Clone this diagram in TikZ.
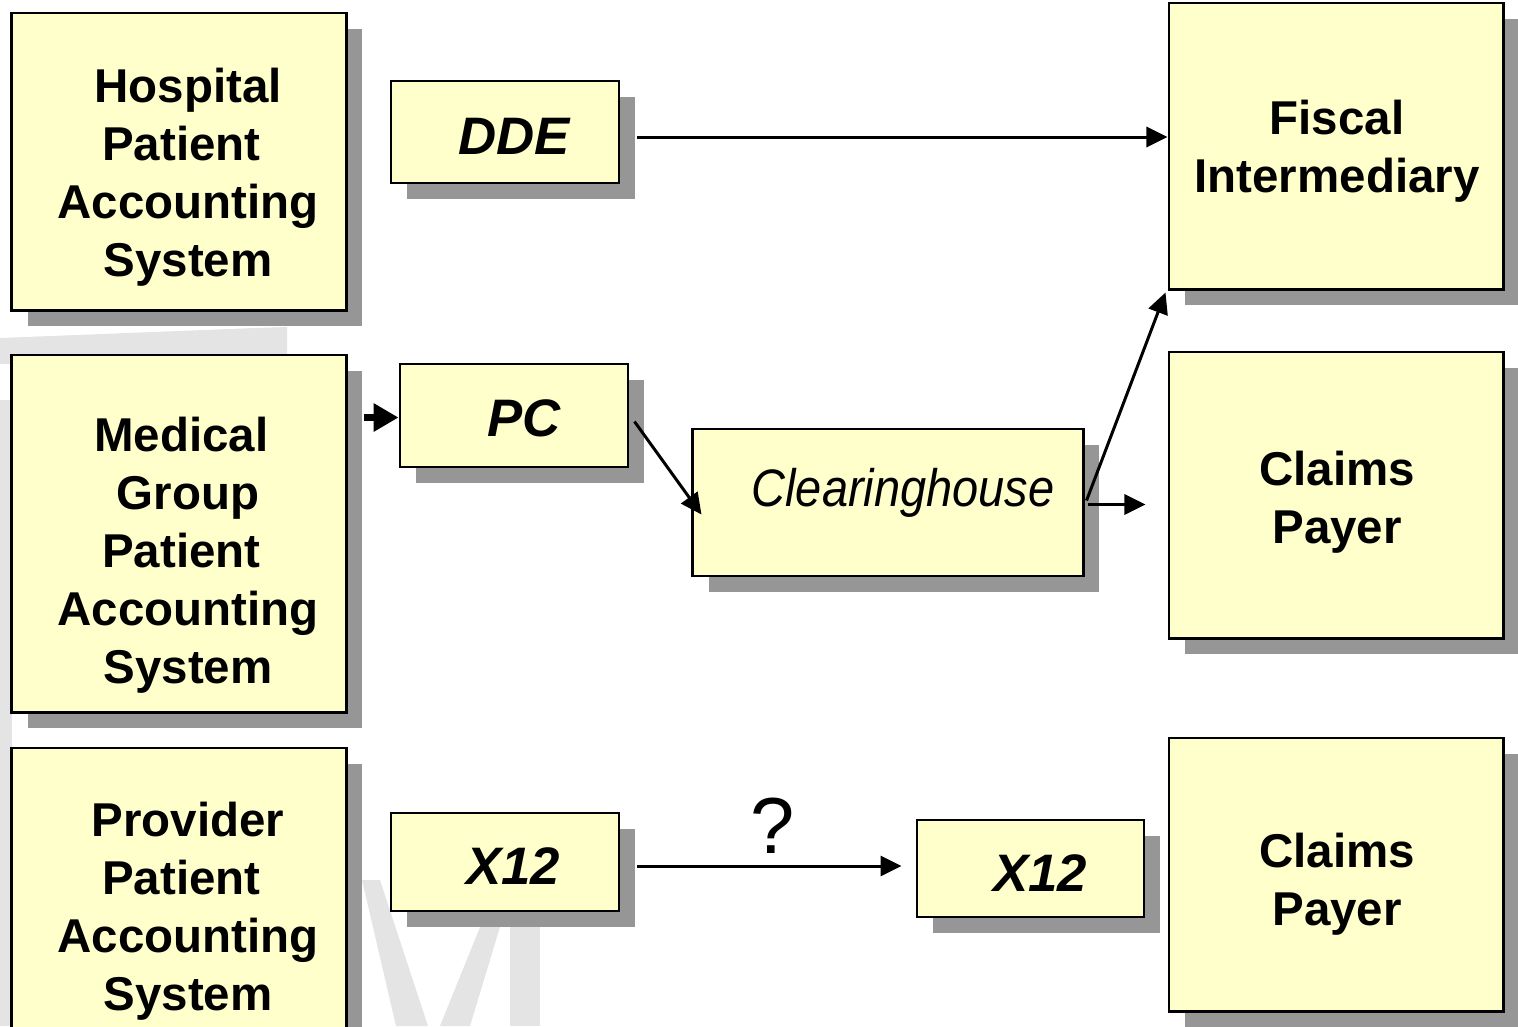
\documentclass[tikz,border=0pt]{standalone}
\usepackage{fontspec}
\setmainfont{Liberation Sans}
\usepackage{graphicx}
\usetikzlibrary{arrows.meta,shadows,calc}

\definecolor{boxyellow}{RGB}{255,255,204}
\definecolor{shadowgray}{RGB}{150,150,150}
\definecolor{markgray}{RGB}{228,228,228}

% trailing space kept at the end of a line
\newcommand{\tailsp}{\hbox to 0.278em{}}

\tikzset{
  box/.style={draw=black, line width=0.8pt, fill=boxyellow, inner sep=0pt,
    drop shadow={shadow xshift=0.16cm, shadow yshift=-0.16cm, fill=shadowgray, opacity=1}},
  systxt/.style={inner sep=0pt, align=center, font=\fontsize{13.5}{16.5}\selectfont\bfseries},
  fmttxt/.style={inner sep=0pt, font=\fontsize{15}{18}\selectfont\bfseries\itshape},
  flow/.style={line width=0.85pt, -{Triangle[length=0.21cm,width=0.2cm]}},
  thickflow/.style={line width=2pt, -{Triangle[length=0.25cm,width=0.27cm]}},
}

\begin{document}
\begin{tikzpicture}[x=0.01cm,y=-0.01cm]
% Picture size in pixels of the slide
\useasboundingbox (0,0) rectangle (1518,1026);
\clip (0,0) rectangle (1518,1026);

% Faint watermark behind the boxes
\fill[markgray] (0,338) -- (255,328) -- (287,327) -- (287,356) -- (0,364) -- cycle;
\fill[markgray] (0,400) rectangle (12,1026);
\fill[markgray] (362,880) -- (380,880) -- (428,1026) -- (396,1026) -- cycle;
\fill[markgray] (480,927) -- (500,927) -- (470,1026) -- (440,1026) -- cycle;
\fill[markgray] (510,927) rectangle (540,1026);

% Systems on the left
\node[box, minimum width=3.34cm, minimum height=2.97cm] (hosp) at (179,161.5) {};
\node[systxt] (hosp-t) at (188,177) {Hospital\\Patient\tailsp\\Accounting\\System};
\node[box, minimum width=3.34cm, minimum height=3.57cm] (med) at (179,533.5) {};
\node[systxt] (med-t) at (188,555) {Medical\tailsp\\Group\\Patient\tailsp\\Accounting\\System};
\node[box, minimum width=3.34cm, minimum height=3.12cm] (prov) at (179,904) {};
\node[systxt] (prov-t) at (188,911) {Provider\\Patient\tailsp\\Accounting\\System};

% Formats in the middle
\node[box, minimum width=2.28cm, minimum height=1.02cm] (dde) at (505,132) {};
\node[fmttxt] (dde-t) at (514,136) {DDE};
\node[box, minimum width=2.28cm, minimum height=1.03cm] (pc) at (514,415.5) {};
\node[fmttxt] (pc-t) at (524,418) {PC};
\node[box, minimum width=3.90cm, minimum height=1.47cm] (ch) at (888,502.5) {};
\node[inner sep=0pt, font=\fontsize{15}{18}\selectfont\itshape] (ch-t) at (903,493) {\scalebox{0.89}[1]{Clearinghouse}};
\node[box, minimum width=2.28cm, minimum height=0.98cm] (xa) at (505,862) {};
\node[fmttxt] (xa-t) at (513,866) {X12};
\node[box, minimum width=2.27cm, minimum height=0.97cm] (xb) at (1030.5,868.5) {};
\node[fmttxt] (xb-t) at (1040,873) {X12};

% Payers on the right
\node[box, minimum width=3.34cm, minimum height=2.86cm] (fi) at (1336,146) {};
\node[systxt] (fi-t) at (1337,151) {Fiscal\\Intermediary};
\node[box, minimum width=3.34cm, minimum height=2.86cm] (cp1) at (1336,495) {};
\node[systxt] (cp1-t) at (1337,502) {Claims\\Payer};
\node[box, minimum width=3.34cm, minimum height=2.73cm] (cp2) at (1336,874.5) {};
\node[systxt] (cp2-t) at (1337,884) {Claims\\Payer};

% Arrows
\coordinate (ddeout) at ($(dde.east)+(17,5)$);
\draw[flow] (ddeout) -- (ddeout -| fi.west);
\draw[thickflow] ($(pc.west -| med.east)+(16,2)$) -- ($(pc.west)+(0,2)$);
\draw[flow] ($(pc.east)+(5,6)$) -- ($(ch.west)+(10,12)$);
\draw[flow] ($(ch.east)+(2,-2)$) -- ($(fi.south west)+(-2,2)$);
\draw[flow] ($(ch.east)+(3,2)$) -- ($(cp1.west |- ch.east)+(-22,2)$);
\draw[flow] ($(xa.east)+(17,4)$) -- ($(xb.west)+(-14,-2.5)$);
\node[inner sep=0pt, font=\fontsize{22.6}{26}\selectfont] (q) at (773,826) {?};
\end{tikzpicture}
\end{document}
